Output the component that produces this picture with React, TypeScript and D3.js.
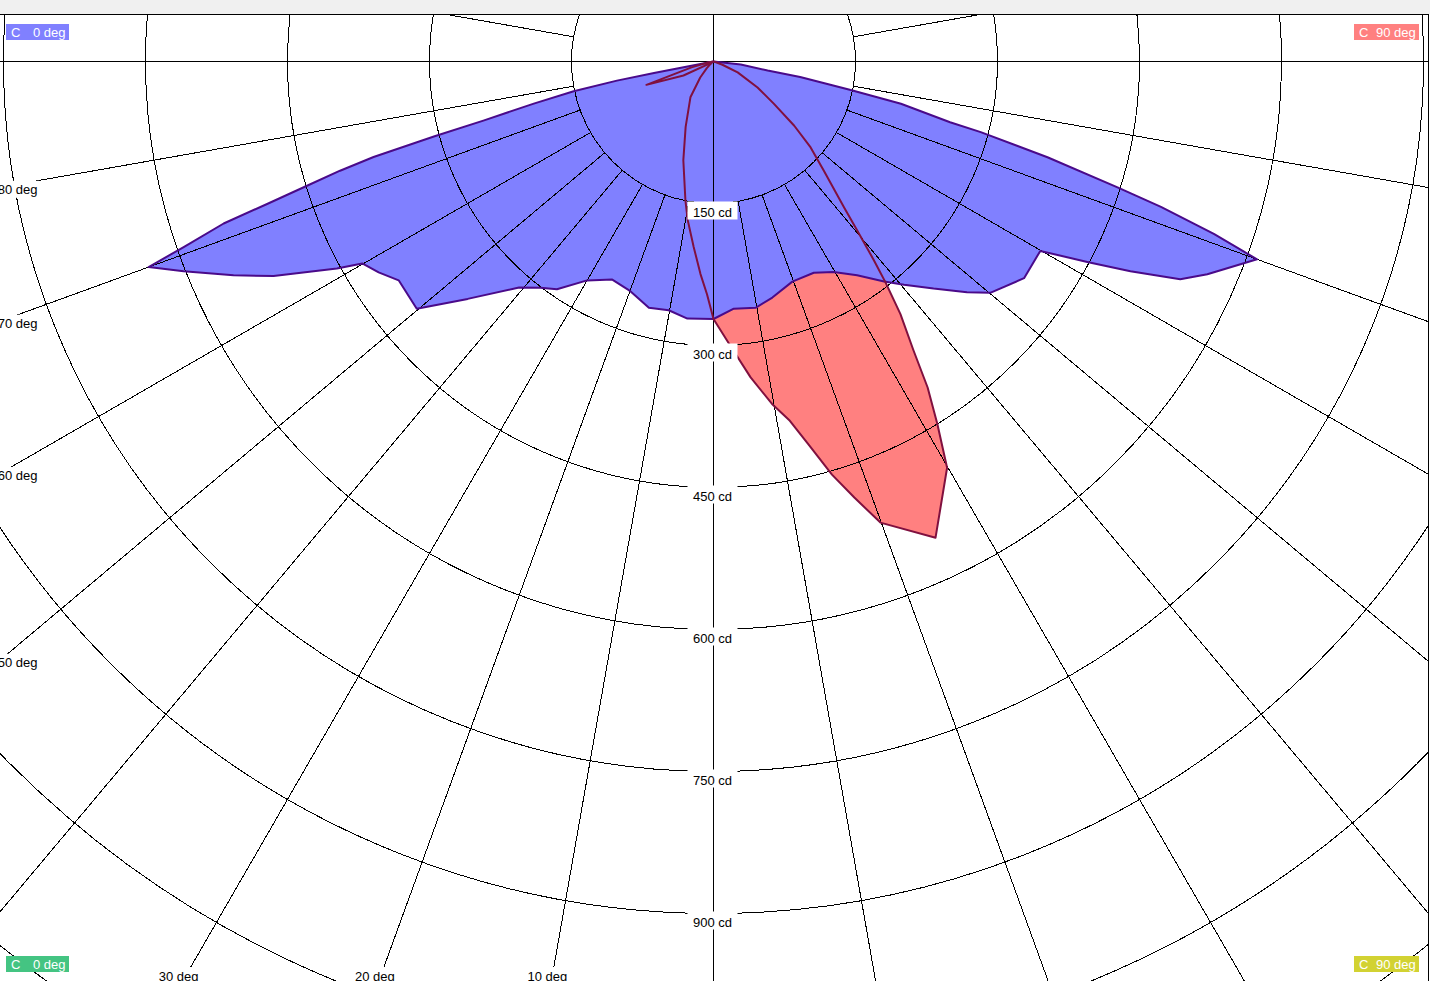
import React from 'react';
import * as d3 from 'd3';

// ---------- data (gamma in degrees from nadir, intensity in cd) ----------
const c0Gamma = [0, 4.7, 9.7, 14, 19.7, 25.4, 29.7, 33.9, 37.8, 40.5, 44.1, 47.7, 50.1, 55.1, 59.9, 61.8, 63.3, 65, 66.7, 70, 71, 72, 72.7, 74, 75.2, 75.6, 77.3, 78.3, 79.8, 80.5, 83.7, 90];
const c0Cd = [272, 262, 264, 257, 247, 247, 256, 272, 294, 310, 334, 362, 381, 400, 399, 448, 493, 544, 568, 611, 559, 497, 447, 367, 292, 258, 203, 148, 93, 58, 29, 0];

const c180Gamma = [0, 5.8, 10.2, 14.7, 19.9, 24.9, 30, 34.5, 37.4, 40.7, 46, 50.2, 55.2, 57.8, 60.1, 61.2, 64, 66, 68.4, 70, 70.7, 71.7, 72.3, 73, 73.7, 74.3, 75, 75.6, 76.8, 78, 78.8, 79, 79.2, 90];
const c180Cd = [272, 273, 267, 269, 258, 254, 267, 292, 301, 315, 361, 408, 405, 418, 428, 454, 517, 555, 602, 635, 593, 545, 495, 449, 411, 373, 305, 251, 195, 151, 104, 64, 28, 0];

const c90Gamma = [0, 3.1, 6.7, 9.7, 12, 14, 16, 17.9, 19.9, 25, 29.9, 31.7, 33.3, 34.7, 36.5, 37.9, 38.9, 40.4, 41.8, 45.3, 48.5, 51.5, 55, 59.5, 65.7, 70, 75, 90];
const c90Cd = [272, 298, 336, 367, 388, 418, 454, 484, 518, 555, 495, 450, 412, 371, 332, 296, 270, 234, 207, 164, 137, 109, 78, 54, 28, 10, 2, 0];

const c270Gamma = [0, 1.6, 3.5, 6.1, 9.2, 11.4, 17, 23.1, 32.8, 39.6, 45, 50, 55, 60, 65, 70.8, 75, 80, 90];
const c270Cd = [272, 246, 225, 197, 170, 150, 109, 75, 45, 22, 10, 4, 2, 3, 35, 75, 24, 6, 0];

const ringValues = [150, 300, 450, 600, 750, 900, 1050, 1200, 1350, 1500];
const ringLabelValues = [150, 300, 450, 600, 750, 900];
const spokeAngles = [10, 20, 30, 40, 50, 60, 70, 80, 100, 110, 120, 130, 140, 150, 160, 170];
const leftAngleLabels = [80, 70, 60, 50];
const bottomAngleLabels = [30, 20, 10];

const W = 1430;
const H = 981;
const cx = 713.5;
const cy = 61.5;
const plotRight = 1428.5;
const plotTop = 14.5;

const FONT = '"Liberation Sans", Arial, sans-serif';

const rScale = d3.scaleLinear().domain([0, 150]).range([0, 142]);
const rad = (deg: number) => (deg * Math.PI) / 180;

const radial = d3
  .lineRadial<[number, number]>()
  .angle((d) => d[0])
  .radius((d) => rScale(d[1]));

function closedPath(leftG: number[], leftV: number[], rightG: number[], rightV: number[]) {
  const left = leftG.map((g, i) => [Math.PI + rad(g), leftV[i]] as [number, number]).reverse();
  const right = rightG.map((g, i) => [Math.PI - rad(g), rightV[i]] as [number, number]);
  return (radial([...left, ...right]) || '') + 'Z';
}

export default function App() {
  const bluePath = closedPath(c180Gamma, c180Cd, c0Gamma, c0Cd);
  const redPath = closedPath(c270Gamma, c270Cd, c90Gamma, c90Cd);

  const r150 = rScale(150);
  const rFar = 2200;

  const spokes: JSX.Element[] = [];
  spokeAngles.forEach((a) => {
    [1, -1].forEach((s) => {
      const x1 = cx + s * r150 * Math.sin(rad(a));
      const y1 = cy + r150 * Math.cos(rad(a));
      const x2 = cx + s * rFar * Math.sin(rad(a));
      const y2 = cy + rFar * Math.cos(rad(a));
      spokes.push(<line key={`sp${a}_${s}`} x1={x1} y1={y1} x2={x2} y2={y2} stroke="#000" strokeWidth={1} />);
    });
  });

  return (
    <div style={{ position: 'absolute', left: 0, top: 0, width: W, height: H, background: '#fff' }}>
      <svg width={W} height={H} style={{ display: 'block' }} fontFamily={FONT}>
        <defs>
          <clipPath id="plotClip">
            <rect x={-1} y={plotTop} width={plotRight + 1} height={H - plotTop + 2} />
          </clipPath>
        </defs>
        <rect x={0} y={0} width={W} height={14} fill="#f0f0f0" />
        <rect x={0} y={plotTop} width={plotRight} height={H} fill="#fff" />
        <g clipPath="url(#plotClip)">
          <g transform={`translate(${cx},${cy})`}>
            <path d={redPath} fill="#ff8080" stroke="none" />
            <path d={bluePath} fill="#8080ff" stroke="none" />
          </g>
          <g shapeRendering="crispEdges">
            {ringValues.map((v) => (
              <circle key={`c${v}`} cx={cx} cy={cy} r={rScale(v)} fill="none" stroke="#000" strokeWidth={1} />
            ))}
            {spokes}
            <line x1={0} y1={cy} x2={plotRight} y2={cy} stroke="#000" strokeWidth={1} />
            <line x1={cx} y1={plotTop} x2={cx} y2={H} stroke="#000" strokeWidth={1} />
          </g>
          <g transform={`translate(${cx},${cy})`}>
            <path d={bluePath} fill="none" stroke="#4a0a8a" strokeWidth={2} strokeLinejoin="round" />
            <path d={redPath} fill="none" stroke="#80103f" strokeWidth={2} strokeLinejoin="round" />
          </g>
          {ringLabelValues.map((v) => {
            const y0 = cy + rScale(v);
            return (
              <g key={`rl${v}`}>
                <rect x={cx - 26} y={y0 - 2} width={50} height={18} fill="#fff" />
                <text x={cx - 1} y={y0 + 13} textAnchor="middle" fontSize={13} fill="#000">
                  {`${v} cd`}
                </text>
              </g>
            );
          })}
          {leftAngleLabels.map((a) => {
            const yEdge = cy + cx / Math.tan(rad(a));
            return (
              <g key={`la${a}`}>
                <rect x={-2} y={yEdge - 6.5} width={41} height={17} fill="#fff" />
                <text x={37.5} y={yEdge + 6.5} textAnchor="end" fontSize={13} fill="#000">
                  {`${a} deg`}
                </text>
              </g>
            );
          })}
          {bottomAngleLabels.map((a) => {
            const xEdge = cx - (H - cy) * Math.tan(rad(a));
            return (
              <g key={`ba${a}`}>
                <rect x={xEdge - 4 - 21} y={967} width={42} height={20} fill="#fff" />
                <text x={xEdge - 4} y={981} textAnchor="middle" fontSize={13} fill="#000">
                  {`${a} deg`}
                </text>
              </g>
            );
          })}
        </g>
        <g shapeRendering="crispEdges">
          <line x1={0} y1={plotTop} x2={plotRight} y2={plotTop} stroke="#000" strokeWidth={1} />
          <line x1={plotRight} y1={plotTop} x2={plotRight} y2={H} stroke="#000" strokeWidth={1} />
        </g>
        {/* corner legend tags */}
        <g fontSize={13} fill="#fff">
          <rect x={6} y={24} width={63} height={16} fill="#8080ff" />
          <text x={11} y={37}>C</text>
          <text x={33} y={37}>0 deg</text>

          <rect x={1354} y={24} width={65} height={16} fill="#ff8080" />
          <text x={1359} y={37}>C</text>
          <text x={1376} y={37}>90 deg</text>

          <rect x={6} y={956} width={63} height={16} fill="#44c482" />
          <text x={11} y={969}>C</text>
          <text x={33} y={969}>0 deg</text>

          <rect x={1354} y={956} width={65} height={16} fill="#d2d232" />
          <text x={1359} y={969}>C</text>
          <text x={1376} y={969}>90 deg</text>
        </g>
      </svg>
    </div>
  );
}
